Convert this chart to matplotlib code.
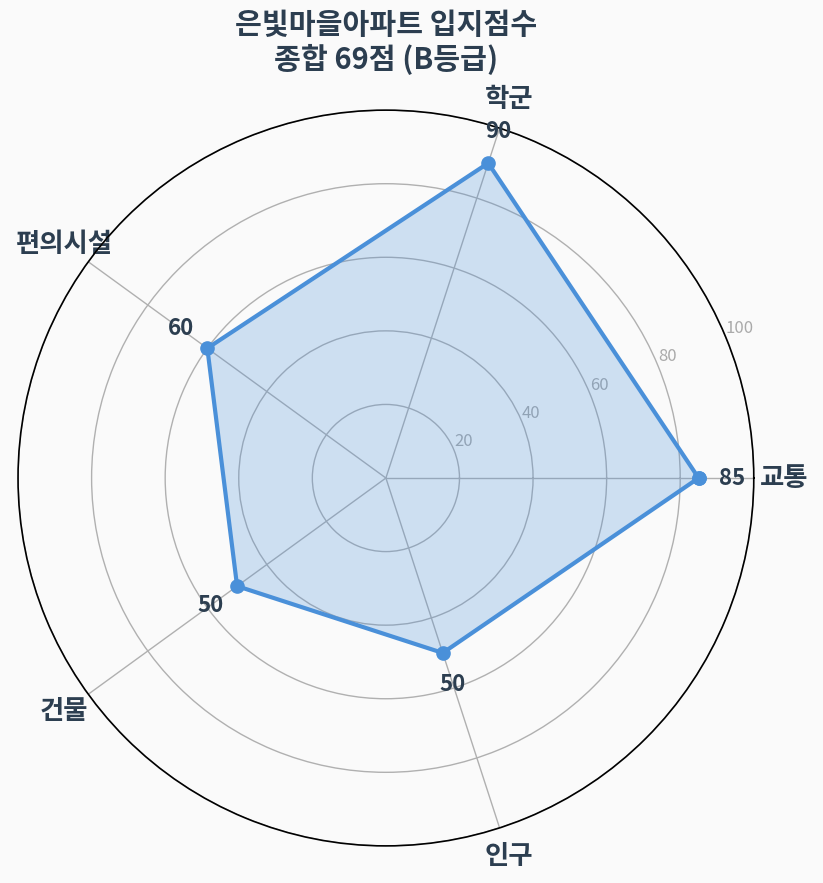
import numpy as np
import matplotlib.pyplot as plt

plt.rcParams['font.family'] = ['Noto Sans CJK KR', 'DejaVu Sans']

categories = ["교통", "학군", "편의시설", "건물", "인구"]
scores = [85, 90, 60, 50, 50]
rticks = [20, 40, 60, 80, 100]
title = "은빛마을아파트 입지점수\n종합 69점 (B등급)"

line_color = "#4a90d9"
text_color = "#2c3e50"
bg = "#fafafa"

angles = np.linspace(0, 2*np.pi, len(categories), endpoint=False)
closed_angles = np.append(angles, angles[0])
closed_scores = scores + scores[:1]

fig = plt.figure(figsize=(8.23, 8.83), dpi=100, facecolor=bg)
ax = fig.add_axes([0.0219, 0.0419, 0.894, 0.8335], projection='polar')
ax.set_facecolor(bg)

ax.plot(closed_angles, closed_scores, color=line_color, linewidth=3,
        marker='o', markersize=9.5, zorder=3)
ax.fill(closed_angles, closed_scores, color=line_color, alpha=0.25, zorder=2)

ax.set_ylim(0, 100)
ax.set_yticks(rticks)
ax.set_yticklabels([str(t) for t in rticks], fontsize=12, color="#aaaaaa")
ax.set_rlabel_position(22.5)

ax.set_xticks(angles)
ax.set_xticklabels(categories, fontsize=19, fontweight='semibold', color=text_color)
ax.tick_params(axis='x', pad=11)

ax.grid(True, color="#b0b0b0", linewidth=1)
ax.spines['polar'].set_color("black")
ax.spines['polar'].set_linewidth(1.2)

for a, s in zip(angles, scores):
    ax.text(a, s + 9, str(s), fontsize=16, fontweight='bold', color=text_color,
            ha='center', va='center', zorder=4)

fig.text(0.469, 0.9515, title, fontsize=21, fontweight='bold', color=text_color,
         ha='center', va='center', linespacing=1.15)

plt.savefig('out.png', dpi=100, facecolor=bg)
